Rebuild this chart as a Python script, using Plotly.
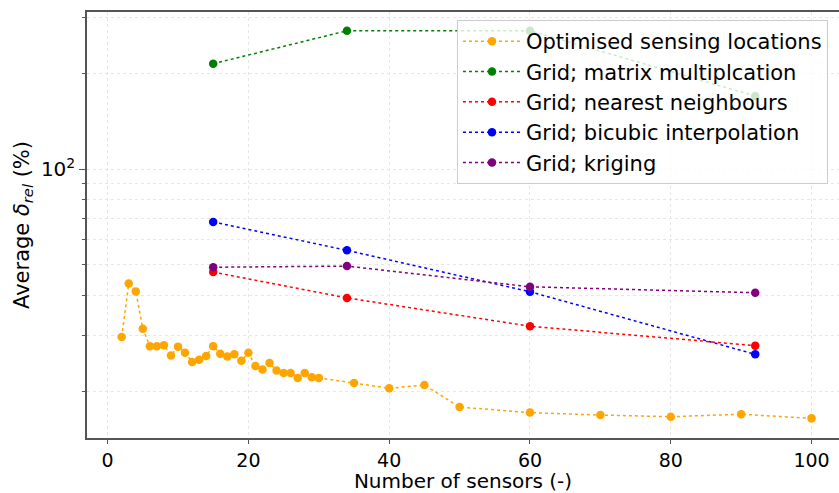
import plotly.graph_objects as go

# Data
opt_x = [2, 3, 4, 5, 6, 7, 8, 9, 10, 11, 12, 13, 14, 15, 16, 17, 18, 19, 20,
         21, 22, 23, 24, 25, 26, 27, 28, 29, 30, 35, 40, 45, 50, 60, 70, 80, 90, 100]
opt_y = [29.6, 43.6, 41.2, 31.4, 27.7, 27.7, 27.9, 25.9, 27.6, 26.4, 24.7, 25.1, 25.8, 27.7,
         26.2, 25.7, 26.1, 24.9, 26.4, 24.0, 23.4, 24.5, 23.2, 22.8, 22.8, 22.0, 22.8, 22.1,
         22.0, 21.2, 20.4, 20.9, 17.8, 17.1, 16.8, 16.6, 16.9, 16.4]

grid_x = [15, 34, 60, 92]
matrix_y = [215, 273, 273, 170]
nearest_y = [47.4, 39.3, 32.0, 27.8]
bicubic_y = [68.2, 55.5, 41.1, 26.1]
kriging_y = [49.1, 49.5, 42.6, 40.8]

series = [
    ("Optimised sensing locations", opt_x, opt_y, "orange"),
    ("Grid; matrix multiplcation", grid_x, matrix_y, "green"),
    ("Grid; nearest neighbours", grid_x, nearest_y, "red"),
    ("Grid; bicubic interpolation", grid_x, bicubic_y, "blue"),
    ("Grid; kriging", grid_x, kriging_y, "purple"),
]

fig = go.Figure()
for i, (name, xs, ys, c) in enumerate(series):
    fig.add_trace(go.Scatter(
        x=xs, y=ys, name=name, mode="lines+markers",
        line=dict(color=c, width=1.5, dash="dot"),
        marker=dict(color=c, size=8.5),
        legendgroup=f"g{i}",
    ))

font = "DejaVu Sans, sans-serif"
grid_c = "#e6e6e6"
spine_c = "#555555"

fig.update_layout(
    width=839, height=493,
    margin=dict(l=87, r=0, t=12, b=51),
    paper_bgcolor="white", plot_bgcolor="white",
    font=dict(family=font, size=20, color="black"),
    legend=dict(
        x=0.492, y=0.981, xanchor="left", yanchor="top",
        bgcolor="rgba(255,255,255,0.8)", bordercolor="#cccccc", borderwidth=1,
        font=dict(size=21), tracegroupgap=0, itemwidth=58,
    ),
    showlegend=True,
)

fig.update_xaxes(
    range=[-2.93, 103.9],
    tickvals=[0, 20, 40, 60, 80, 100],
    ticks="outside", ticklen=4, tickwidth=1.2, tickcolor=spine_c,
    tickfont=dict(size=19),
    showline=True, linecolor=spine_c, linewidth=1.5, mirror=True,
    showgrid=True, gridcolor=grid_c, griddash="dot", gridwidth=1,
    zeroline=False,
    title=dict(text="Number of sensors (-)", standoff=8, font=dict(size=20)),
)

fig.update_yaxes(
    type="log",
    range=[1.153, 2.4953],
    tickvals=[100], ticktext=["10<sup>2</sup>"],
    ticks="outside", ticklen=6, tickwidth=1.2, tickcolor=spine_c,
    tickfont=dict(size=20),
    showline=True, linecolor=spine_c, linewidth=1.5, mirror=False,
    showgrid=True, gridcolor=grid_c, griddash="dot", gridwidth=1,
    zeroline=False,
    minor=dict(tickvals=[20, 30, 40, 50, 60, 70, 80, 90, 200, 300],
               ticks="outside", ticklen=3, tickcolor=spine_c,
               showgrid=True, gridcolor=grid_c, griddash="dot"),
    title=dict(text="Average <i>δ</i><sub><i>rel</i></sub> (%)", standoff=6, font=dict(size=21)),
)

fig.write_html("out.html")
